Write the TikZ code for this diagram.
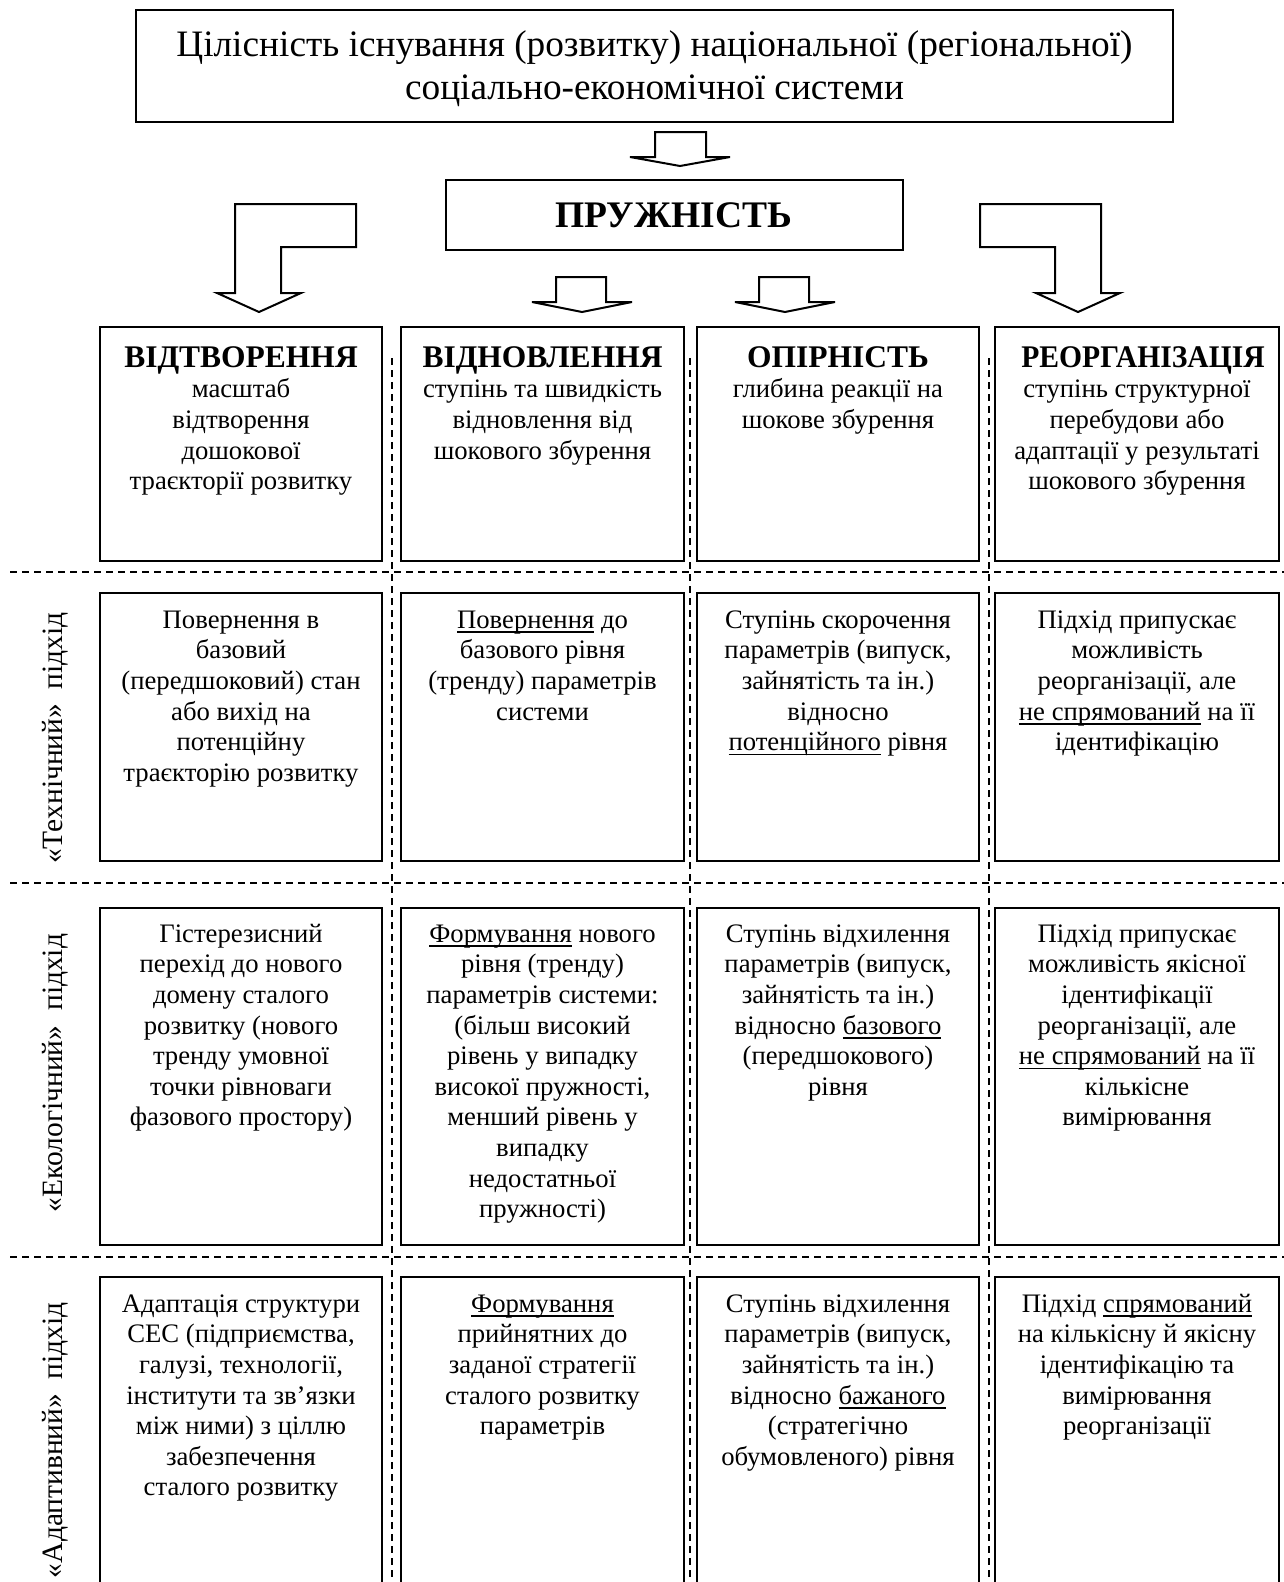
\documentclass[tikz,border=0pt]{standalone}
\usepackage{fontspec}
\usepackage{graphicx}
\setmainfont{Liberation Serif}
\usetikzlibrary{calc}
\newsavebox{\myulbox}
\newcommand{\undl}[1]{\sbox{\myulbox}{#1}\rlap{\rule[-4.5pt]{\wd\myulbox}{1.5pt}}\usebox{\myulbox}}
\newcommand{\mystrut}{\rule{0pt}{24pt}}
\newcommand{\hd}[1]{{\fontsize{31.5}{30.6}\selectfont\bfseries #1}}
\begin{document}
\begin{tikzpicture}[x=1pt,y=-1pt,
  cell/.style={draw, line width=2pt, anchor=north west, inner sep=0pt, outer sep=0pt},
  txt/.style={anchor=north, align=center, inner sep=0pt, font=\fontsize{26.7}{30.6}\selectfont},
  lbl/.style={rotate=90, inner sep=0pt, font=\fontsize{29.5}{34}\selectfont},
  blockarrow/.style={draw, line width=2pt, fill=white, line join=miter},
  sep/.style={draw, line width=1.4pt, dash pattern=on 7pt off 5pt}]
\useasboundingbox (0,0) rectangle (1284,1582);
\clip (0,0) rectangle (1284,1582);
\fill[white] (0,0) rectangle (1284,1582);

% top boxes
\node[cell, minimum width=1037, minimum height=112] (top) at (136,10) {};
\node[txt, font=\fontsize{37.3}{43.6}\selectfont, anchor=north] (toptxt) at ($(top.north)+(0,16)$)
  {\rule{0pt}{30pt}Цілісність існування (розвитку) національної (регіональної)\\соціально-економічної системи};
\node[cell, minimum width=457, minimum height=70] (pr) at (446,180) {};
\node[anchor=base, inner sep=0pt, font=\fontsize{37.5}{40}\selectfont\bfseries] (prtxt) at (674,227) {ПРУЖНІСТЬ};

% block arrows
\draw[blockarrow] (655,132) -- (706,132) -- (706,157) -- (730,157) -- (680,166) -- (630,157) -- (655,157) -- cycle;
\draw[blockarrow] (556,277) -- (606,277) -- (606,302) -- (632,302) -- (582,312) -- (532,302) -- (556,302) -- cycle;
\draw[blockarrow] (759,277) -- (809,277) -- (809,302) -- (835,302) -- (785,312) -- (735,302) -- (759,302) -- cycle;
\draw[blockarrow] (235,204) -- (356,204) -- (356,247) -- (281,247) -- (281,293) -- (301,293) -- (259,312) -- (217,293) -- (235,293) -- cycle;
\draw[blockarrow] (980,204) -- (1101,204) -- (1101,293) -- (1120,293) -- (1078,312) -- (1036,293) -- (1055,293) -- (1055,247) -- (980,247) -- cycle;

% separators
\draw[sep] (10,572) -- (1284,572);
\draw[sep] (10,883) -- (1284,883);
\draw[sep] (10,1257) -- (1284,1257);
\draw[sep] (392,358) -- (392,1582);
\draw[sep] (690,358) -- (690,1582);
\draw[sep] (989,358) -- (989,1582);

% row 1
\node[cell, minimum width=282, minimum height=234] (a1) at (100,327) {};
\node[cell, minimum width=283, minimum height=234] (a2) at (401,327) {};
\node[cell, minimum width=282, minimum height=234] (a3) at (697,327) {};
\node[cell, minimum width=284, minimum height=234] (a4) at (995,327) {};
\node[txt] (a1t) at ($(a1.north)+(0,16)$) {\mystrut\hd{ВІДТВОРЕННЯ}\\масштаб\\відтворення\\дошокової\\траєкторії розвитку};
\node[txt] (a2t) at ($(a2.north)+(0,16)$) {\mystrut\hd{ВІДНОВЛЕННЯ}\\ступінь та швидкість\\відновлення від\\шокового збурення};
\node[txt] (a3t) at ($(a3.north)+(0,16)$) {\mystrut\hd{ОПІРНІСТЬ}\\глибина реакції на\\шокове збурення};
\node[txt] (a4t) at ($(a4.north)+(0,16)$) {\mystrut\hspace*{12pt}\hd{\scalebox{0.94}[1]{РЕОРГАНІЗАЦІЯ}}\\ступінь структурної\\перебудови або\\адаптації у результаті\\шокового збурення};

% row 2
\node[cell, minimum width=282, minimum height=268] (b1) at (100,593) {};
\node[cell, minimum width=283, minimum height=268] (b2) at (401,593) {};
\node[cell, minimum width=282, minimum height=268] (b3) at (697,593) {};
\node[cell, minimum width=284, minimum height=268] (b4) at (995,593) {};
\node[txt] (b1t) at ($(b1.north)+(0,11)$) {\mystrut Повернення в\\базовий\\(передшоковий) стан\\або вихід на\\потенційну\\траєкторію розвитку};
\node[txt] (b2t) at ($(b2.north)+(0,11)$) {\mystrut\undl{Повернення} до\\базового рівня\\(тренду) параметрів\\системи};
\node[txt] (b3t) at ($(b3.north)+(0,11)$) {\mystrut Ступінь скорочення\\параметрів (випуск,\\зайнятість та ін.)\\відносно\\\undl{потенційного} рівня};
\node[txt] (b4t) at ($(b4.north)+(0,11)$) {\mystrut Підхід припускає\\можливість\\реорганізації, але\\\undl{не спрямований} на її\\ідентифікацію};

% row 3
\node[cell, minimum width=282, minimum height=337] (c1) at (100,908) {};
\node[cell, minimum width=283, minimum height=337] (c2) at (401,908) {};
\node[cell, minimum width=282, minimum height=337] (c3) at (697,908) {};
\node[cell, minimum width=284, minimum height=337] (c4) at (995,908) {};
\node[txt] (c1t) at ($(c1.north)+(0,10)$) {\mystrut Гістерезисний\\перехід до нового\\домену сталого\\розвитку (нового\\тренду умовної\\точки рівноваги\\фазового простору)};
\node[txt] (c2t) at ($(c2.north)+(0,10)$) {\mystrut\undl{Формування} нового\\рівня (тренду)\\параметрів системи:\\(більш високий\\рівень у випадку\\високої пружності,\\менший рівень у\\випадку\\недостатньої\\пружності)};
\node[txt] (c3t) at ($(c3.north)+(0,10)$) {\mystrut Ступінь відхилення\\параметрів (випуск,\\зайнятість та ін.)\\відносно \undl{базового}\\(передшокового)\\рівня};
\node[txt] (c4t) at ($(c4.north)+(0,10)$) {\mystrut Підхід припускає\\можливість якісної\\ідентифікації\\реорганізації, але\\\undl{не спрямований} на її\\кількісне\\вимірювання};

% row 4
\node[cell, minimum width=282, minimum height=330] (d1) at (100,1277) {};
\node[cell, minimum width=283, minimum height=330] (d2) at (401,1277) {};
\node[cell, minimum width=282, minimum height=330] (d3) at (697,1277) {};
\node[cell, minimum width=284, minimum height=330] (d4) at (995,1277) {};
\node[txt] (d1t) at ($(d1.north)+(0,11)$) {\mystrut Адаптація структури\\СЕС (підприємства,\\галузі, технології,\\інститути та зв’язки\\між ними) з ціллю\\забезпечення\\сталого розвитку};
\node[txt] (d2t) at ($(d2.north)+(0,11)$) {\mystrut\undl{Формування}\\прийнятних до\\заданої стратегії\\сталого розвитку\\параметрів};
\node[txt] (d3t) at ($(d3.north)+(0,11)$) {\mystrut Ступінь відхилення\\параметрів (випуск,\\зайнятість та ін.)\\відносно \undl{бажаного}\\(стратегічно\\обумовленого) рівня};
\node[txt] (d4t) at ($(d4.north)+(0,11)$) {\mystrut Підхід \undl{спрямований}\\на кількісну й якісну\\ідентифікацію та\\вимірювання\\реорганізації};

% row labels
\node[lbl] (l1) at (55,738) {«Технічний»\ \ підхід};
\node[lbl] (l2) at (55,1073) {«Екологічний»\ \ підхід};
\node[lbl] (l3) at (55,1440) {«Адаптивний»\ \ підхід};
\end{tikzpicture}
\end{document}
